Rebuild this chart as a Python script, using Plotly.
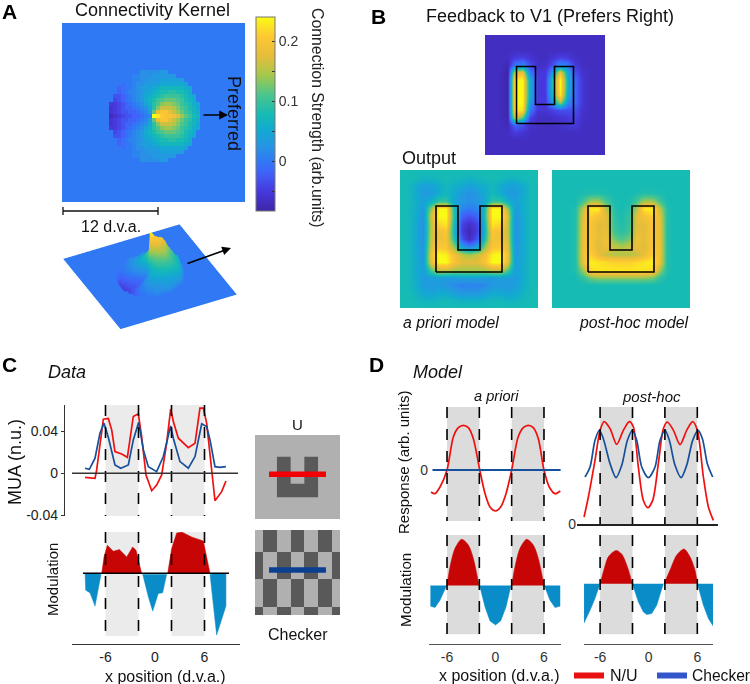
import numpy as np
import plotly.graph_objects as go

W, H = 750, 684
FONT = "Liberation Sans"

# ---------- data ----------
PARULA = [[0, "#3e26a8"], [.1, "#4638dc"], [.2, "#3f64fa"], [.257, "#3079f5"], [.33, "#2694e4"],
          [.42, "#12aad0"], [.5, "#16bbb4"], [.6, "#4cc58c"], [.7, "#a5c84c"], [.8, "#e6bd3a"],
          [.9, "#fec733"], [1, "#f9fb15"]]

# Kernel disc, hundredths of connection strength, centre row then rows outward (mirrored vertically)
KERNEL_ROWS = [
    [-7,-6,-5,-4,-3,-3,-2,-2,-1,0,1,24,23,21,20,20,19,17,14,12,10,8,7],
    [-6,-5,-4,-3,-3,-2,-2,-1,0,1,3,12,18,20,20,18,16,14,12,10,9,7,6],
    [-6,-5,-4,-3,-2,-2,-1,0,1,2,5,9,13,16,16,16,15,13,11,10,8,7,5],
    [-5,-5,-4,-3,-2,-1,0,1,2,4,6,9,11,13,14,14,13,12,10,9,8,6,5],
    [-4,-3,-2,-1,0,1,2,3,5,7,8,10,11,12,12,12,11,10,8,7,6],
    [-3,-3,-2,-1,0,1,2,3,5,6,7,8,9,10,10,10,10,9,8,6,5],
    [-2,-1,0,1,1,2,3,4,5,6,7,8,8,9,9,8,8,7,6],
    [-2,-1,0,0,1,2,3,4,4,5,6,7,7,7,7,7,7,6,5],
    [-1,0,0,1,2,2,3,3,4,4,5,5,5,5,5,5,4],
    [0,0,1,1,2,2,3,3,3,4,4,4,4,4,4],
    [1,1,2,2,2,3,3,3,3,3,3],
    [2,2,2,2,2,3,3],
]
CBAR_TICKS = [-.05, 0, .05, .1, .15, .2]
CBAR_LABELS = ["", "0", "", "0.1", "", "0.2"]

FEEDBACK = [
    [.5]*17, [.5]*17, [.5]*17,
    [.5,.5,.5,.5,1,1.2,.8,.5,.5,.8,1.2,1,.6,.5,.5,.5,.5],
    [.5,.5,.5,.2,2.5,3,1.5,.6,.6,1.6,3,2.5,1,.5,.5,.5,.5],
    [.5,.5,.4,0,8,8.5,2.5,1,1,3.5,8.5,4,1.5,.7,.5,.5,.5],
    [.5,.5,.4,0,9.8,10,4,1,1,5.5,10,4.5,2,.8,.5,.5,.5],
    [.5,.5,.4,0,10,10,4,1,1,5.5,10,4.5,2,.8,.5,.5,.5],
    [.5,.5,.4,0,10,10,4,1,1,5,9.7,4,2,.8,.5,.5,.5],
    [.5,.5,.4,0,10,10,3.5,1,1,3.5,7,3,2,.8,.5,.5,.5],
    [.5,.5,.4,0,9.8,9.5,2.5,.8,.8,1.2,1.5,1.5,1.5,.7,.5,.5,.5],
    [.5,.5,.4,.1,8,6,1.2,.5,.5,.6,.8,1,1.2,.6,.5,.5,.5],
    [.5,.5,.5,.3,2,1.5,.7,.5,.5,.5,.6,.8,1,.5,.5,.5,.5],
    [.5,.5,.5,.5,1,.8,.5,.5,.5,.5,.5,.5,.5,.5,.5,.5,.5],
    [.5]*17, [.5]*17, [.5]*17,
]
APRIORI_HALF = [
    [5,5,5,5,5,5,5,5,5,5],
    [5,5,4.9,4.7,4.7,4.9,5,4.9,4.8,4.6],
    [5,4.9,4.3,3.8,3.8,4.3,4.8,4.4,4.2,3.8],
    [5,4.9,4.2,3.6,3.6,4.3,4.8,4.2,3.6,3.2],
    [5,4.9,4.4,3.8,4.5,5.5,5.5,4,3.4,3.2],
    [5,4.9,4.4,3.6,6.8,10,10,5,2.9,2.6],
    [5,4.9,4.3,3.3,7.8,10,10,5.2,2,1.6],
    [5,4.9,4.2,3.2,7.5,9.3,9.6,4.8,1.3,.6],
    [5,4.9,4.2,3.2,7.5,8.5,8.8,4.6,1.1,.2],
    [5,4.9,4.2,3.2,7.7,8.4,8.6,5.2,1.7,.5],
    [5,4.9,4.2,3.4,8,9,8.8,6.8,4,3],
    [5,4.9,4.2,3.4,8.5,10,9.8,8.5,7.5,7],
    [5,4.9,4.3,3.6,8.2,10,10,8.7,8,8],
    [5,4.9,4.3,3.7,6,7.5,7.5,7,7,7],
    [5,4.9,4.3,3.6,3.7,3.8,3.6,3.7,3.8,3.9],
    [5,4.9,4.4,3.7,3.5,3.6,3.4,3,2.8,2.8],
    [5,5,4.6,4.1,3.9,4.2,4.2,3.8,3.5,3.5],
    [5,5,4.9,4.7,4.6,4.8,4.9,4.7,4.6,4.6],
    [5,5,5,5,5,5,5,5,5,5],
]
POSTHOC_HALF = [
    [5]*10, [5]*10, [5]*10,
    [5,5,5,5,5.1,5.2,5.2,5.1,5,5],
    [5,5,5,5,5.8,7,7,5.8,5.1,5],
    [5,5,5,5.2,7.5,9.8,9.8,7.2,5.3,5],
    [5,5,5,5.2,8,9.2,8.6,8,5.5,5.1],
    [5,5,5,5.2,8.2,8.8,8,8,5.6,5.2],
    [5,5,5,5.2,8.2,8.7,8,8.1,5.8,5.4],
    [5,5,5,5.2,8.3,8.8,8,8.4,6.5,6],
    [5,5,5,5.2,8.4,8.9,7.8,8.3,7.6,7.2],
    [5,5,5,5.2,8.4,9.2,8.2,7.5,7.2,7.2],
    [5,5,5,5.2,8.3,9.8,9.6,9.4,9.2,9.2],
    [5,5,5,5.2,7,9.4,9.6,9.6,9.6,9.6],
    [5,5,5,5,5.5,6.5,6.8,6.8,6.8,6.8],
    [5]*10, [5]*10, [5]*10, [5]*10,
]
U_X = [-6, 6, 6, 2, 2, -2, -2, -6, -6]
U_Y = [-6, -6, 6, 6, -2, -2, 6, 6, -6]

FIG_EDGES = [-6, -2, 2, 6]
X_TICKS = [-6, 0, 6]
X_TICK_LABELS = ["-6", "0", "6"]

C_RED_X = [-8.48,-7.27,-7.07,-6.67,-6.26,-5.66,-5.25,-4.85,-4.04,-3.35,-2.63,-2.02,-1.62,-1.09,-.40,.2,.81,1.41,1.9,2.22,2.83,4.04,4.85,5.45,5.86,6.26,6.75,7.27,8.08,8.6]
C_RED_Y = [-.0038,-.0048,.0032,.0285,.0513,.052,.0412,.0206,.0184,.0152,.0539,.0564,.0349,-.0016,-.0165,-.0111,-.0016,.0285,.0609,.0491,.0333,.0244,.0285,.0618,.0618,.0476,.0127,-.026,-.0174,-.0073]
C_BLUE_X = [-8.48,-7.96,-7.27,-6.67,-6.18,-5.66,-4.85,-4.16,-3.23,-2.63,-1.98,-1.41,-.81,.2,1.01,1.62,1.9,2.22,3.03,4.04,4.85,5.66,6.26,6.67,7.27,7.88,8.6]
C_BLUE_Y = [.0048,.0038,.0143,.038,.0476,.0342,.0079,.0048,.0079,.0317,.0485,.0222,.0063,.0016,.0159,.038,.045,.0333,.0111,.0048,.0159,.0469,.0444,.0317,.0063,.0057,.0063]

C_MOD_POS = [
    ([-6.46,-6.18,-5.78,-5.05,-4.32,-3.43,-2.71,-2.30,-1.62], [0,.49,.84,.66,.71,.49,.79,.69,0]),
    ([1.54,2.02,2.63,3.23,4.44,5.45,5.86,6.67], [0,.74,1.21,1.24,1.09,1.01,.97,0]),
]
C_MOD_NEG = [
    ([-8.48,-8.40,-7.88,-7.27,-6.54], [0,-.51,-.59,-.99,-.03]),
    ([-1.49,-.81,-.28,.40,.93,1.41], [-.03,-.71,-1.14,-.61,-.59,-.03]),
    ([6.67,7.47,8.6,8.6], [-.03,-1.86,-.99,0]),
]
D1_RED_X = [-7.98,-7.5,-6.87,-6,-5.22,-4.6,-3.98,-3.36,-2.74,-1.95,-1.29,-.68,0,.64,1.3,2,2.8,3.44,4.06,4.68,5.3,6,6.66,7.36,8.02]
D1_RED_Y = [-.66,-.71,-.51,0,.99,1.27,1.34,1.27,.94,0,-.71,-1.11,-1.23,-1.11,-.71,0,.99,1.27,1.34,1.27,.94,0,-.51,-.71,-.63]
D1_BLUE_X = [-7.8, 8.06]
D1_BLUE_Y = [0, 0]
D2_RED_X = [-7.98,-7.45,-6.63,-6.0,-5.51,-4.77,-3.95,-3.13,-2.39,-1.89,-1.28,-.66,-.12,.49,1.19,1.81,2.3,3.05,3.87,4.69,5.43,6.01,6.75,7.37,7.98]
D2_RED_Y = [.21,.81,1.91,2.81,3.07,2.86,2.39,2.81,3.07,2.91,1.71,.71,.49,.71,1.81,2.86,3.06,2.81,2.38,2.81,3.07,2.81,1.41,.51,.11]
D2_BLUE_X = [-7.86,-7.24,-6.63,-6.09,-5.6,-4.77,-4.03,-3.33,-2.63,-2.02,-1.48,-.86,-.04,.78,1.4,2.02,2.55,3.25,3.99,4.69,5.43,6.09,6.63,7.24,7.9]
D2_BLUE_Y = [1.41,1.71,2.51,2.81,2.56,1.81,1.39,1.76,2.51,2.81,2.51,1.71,1.39,1.71,2.51,2.81,2.51,1.76,1.39,1.76,2.51,2.81,2.56,1.81,1.41]
D1_MOD_POS = [
    ([-6,-5.63,-5.01,-4.19,-3.36,-2.74,-2.04], [0,.56,1.11,1.38,1.21,.81,0]),
    ([2,2.41,3.03,3.86,4.68,5.3,6], [0,.56,1.11,1.38,1.21,.81,0]),
]
D1_MOD_NEG = [
    ([-8.02,-8.02,-7.48,-6.87,-6.04], [0,-.62,-.66,-.44,0]),
    ([-1.96,-1.3,-.68,0,.64,1.3,1.92], [0,-.64,-1.06,-1.18,-1.06,-.64,0]),
    ([6.04,6.74,7.36,7.98,7.98], [0,-.44,-.66,-.62,0]),
]
D2_MOD_POS = [
    ([-6,-5.6,-4.98,-4.03,-3.33,-2.63,-2.02], [0,.36,.81,1.0,.89,.51,0]),
    ([1.89,2.63,3.46,4.36,5.1,5.72,6.01], [0,.41,.86,1.04,.81,.41,0]),
]
D2_MOD_NEG = [
    ([-7.98,-7.98,-7.24,-6.63,-6], [0,-1.17,-.79,-.44,0]),
    ([-2.02,-1.28,-.66,-.25,.37,.99,1.81], [0,-.54,-.84,-.92,-.89,-.64,0]),
    ([6.01,6.75,7.37,7.98,7.98], [0,-.64,-1.04,-1.27,0]),
]
CHECK_X = [-12.4, -10, -6, -2, 2, 6, 10, 12.4]
CHECK_Y = [12.4, 6, -2, -10, -12.4]
CHECK_Z = [[0,1,0,1,0,1,0],[1,0,1,0,1,0,1],[0,1,0,1,0,1,0],[1,0,1,0,1,0,1]]

RED, BLUE, DRED, CYAN = "#f01010", "#164f9a", "#c80505", "#0a8cc8"

# ---------- helpers ----------
fig = go.Figure()
counter = [1]
layout = {}
shapes = []
annots = []


def axes(x0, x1, ytop, ybot, xr, yr, xa=None, ya=None):
    counter[0] += 1
    n = counter[0]
    base = dict(visible=False, showgrid=False, zeroline=False, fixedrange=True)
    xd = dict(base, domain=[x0 / W, x1 / W], range=xr, anchor=f"y{n}")
    yd = dict(base, domain=[1 - ybot / H, 1 - ytop / H], range=yr, anchor=f"x{n}")
    if xa:
        xd.update(xa)
    if ya:
        yd.update(ya)
    layout[f"xaxis{n}"] = xd
    layout[f"yaxis{n}"] = yd
    return f"x{n}", f"y{n}"


def text(s, x, y, size=14, angle=0, color="#111", anchor="center", bold=False, italic=False):
    if bold:
        s = f"<b>{s}</b>"
    if italic:
        s = f"<i>{s}</i>"
    annots.append(dict(text=s, x=x / W, y=1 - y / H, xref="paper", yref="paper", showarrow=False,
                       xanchor=anchor, yanchor="middle", textangle=angle,
                       font=dict(size=size, color=color, family=FONT)))


def arrow(x0, y0, x1, y1):
    annots.append(dict(text="", x=x1 / W, y=1 - y1 / H, xref="paper", yref="paper", ax=x0 - x1, ay=y0 - y1,
                       axref="pixel", ayref="pixel", showarrow=True, arrowhead=2, arrowsize=1.1, arrowwidth=1.6,
                       arrowcolor="#000"))


def line_paper(x0, y0, x1, y1, color="#111", width=1.5):
    shapes.append(dict(type="line", xref="paper", yref="paper", x0=x0 / W, x1=x1 / W, y0=1 - y0 / H, y1=1 - y1 / H,
                       line=dict(color=color, width=width)))


def regions(xa, ya, fill, yspan=(0, 1)):
    yd = ya + " domain"
    for a, b in ((FIG_EDGES[0], FIG_EDGES[1]), (FIG_EDGES[2], FIG_EDGES[3])):
        shapes.append(dict(type="rect", xref=xa, yref=yd, x0=a, x1=b, y0=yspan[0], y1=yspan[1],
                           fillcolor=fill, line=dict(width=0), layer="below"))
    for e in FIG_EDGES:
        shapes.append(dict(type="line", xref=xa, yref=yd, x0=e, x1=e, y0=yspan[1], y1=yspan[0],
                           line=dict(color="#000", width=1.6, dash="11px,11px"), layer="above"))


def curve(xa, ya, xs, ys, color, width=1.7, smooth=True):
    fig.add_trace(go.Scatter(x=xs, y=ys, xaxis=xa, yaxis=ya, mode="lines", hoverinfo="skip", showlegend=False,
                             line=dict(color=color, width=width, shape="spline" if smooth else "linear",
                                       **({"smoothing": .8} if smooth else {}))))


def filled(xa, ya, polys, color, smooth=True):
    for xs, ys in polys:
        fig.add_trace(go.Scatter(x=xs, y=ys, xaxis=xa, yaxis=ya, mode="lines", fill="toself", fillcolor=color,
                                 hoverinfo="skip", showlegend=False,
                                 line=dict(color=color, width=0.5, shape="spline" if smooth else "linear",
                                           **({"smoothing": .8} if smooth else {}))))


def heat(xa, ya, rows, R, zmin=0, zmax=10):
    z = rows
    n = len(z)
    m = len(z[0])
    fig.add_trace(go.Heatmap(z=z, x0=-R, dx=2 * R / (m - 1), y0=R, dy=-2 * R / (n - 1), xaxis=xa, yaxis=ya,
                             zmin=zmin, zmax=zmax, colorscale=PARULA, showscale=False, zsmooth="best",
                             hoverinfo="skip"))


def outline(xa, ya):
    fig.add_trace(go.Scatter(x=U_X, y=U_Y, xaxis=xa, yaxis=ya, mode="lines", hoverinfo="skip", showlegend=False,
                             line=dict(color="#000", width=1.6)))


def mirror_lr(half):
    return [r + r[-2::-1] for r in half]


# ---------- panel A ----------
grid = np.zeros((47, 47))
for j, row in enumerate(KERNEL_ROWS):
    vals = np.array(row) / 100.0
    k0 = 23 - len(row) // 2
    grid[23 + j, k0:k0 + len(row)] = vals
    grid[23 - j, k0:k0 + len(row)] = vals
kx = (np.arange(47) - 23) * 0.5

xa, ya = axes(62, 245, 23, 202, [-11.65, 11.5], [-10.9, 11.75])
fig.add_trace(go.Heatmap(z=grid.tolist(), x=kx.tolist(), y=kx.tolist(), xaxis=xa, yaxis=ya, zmin=-.083, zmax=.24,
                         colorscale=PARULA, hoverinfo="skip", zsmooth=False,
                         colorbar=dict(x=256 / W, xanchor="left", xpad=0, y=1 - 211 / H, yanchor="bottom", ypad=0,
                                       len=194 / H, lenmode="fraction", thickness=19, thicknessmode="pixels",
                                       tickmode="array", tickvals=CBAR_TICKS, ticktext=CBAR_LABELS, ticks="inside",
                                       ticklen=3, tickcolor="#333", outlinecolor="#777", outlinewidth=1,
                                       tickfont=dict(size=14, color="#333", family=FONT))))
text("Connectivity Kernel", 152, 10, 18)
text("Connection Strength (arb.units)", 318, 118, 15.8, angle=90, color="#222")
text("Preferred", 234, 113, 18, angle=90)
arrow(202, 115, 228, 115)
line_paper(63, 211, 158, 211, width=1.3)
line_paper(63, 207, 63, 215, width=1.3)
line_paper(158, 207, 158, 215, width=1.3)
text("12 d.v.a.", 111, 226, 16)
text("A", 9, 11.5, 21, bold=True, color="#000")

fig.add_trace(go.Surface(z=grid.tolist(), x=kx.tolist(), y=kx.tolist(), scene="scene", colorscale=PARULA,
                         cmin=-.083, cmax=.24, showscale=False, hoverinfo="skip",
                         lighting=dict(ambient=1, diffuse=0, specular=0, fresnel=0, roughness=1)))
layout["scene"] = dict(
    domain=dict(x=[45 / W, 255 / W], y=[1 - 335.5 / H, 1 - 185.5 / H]),
    xaxis=dict(visible=False, range=[-11.5, 11.5]), yaxis=dict(visible=False, range=[-11.5, 11.5]),
    zaxis=dict(visible=False, range=[-.07, .24]),
    aspectmode="manual", aspectratio=dict(x=1.73, y=1.73, z=.96), bgcolor="rgba(0,0,0,0)",
    camera=dict(eye=dict(x=-.352 * 2, y=-.715 * 2, z=.604 * 2), up=dict(x=0, y=0, z=1),
                center=dict(x=0, y=0, z=0), projection=dict(type="orthographic")))
arrow(186, 264, 231, 248)

# ---------- panel B ----------
xa, ya = axes(485, 605, 35, 155, [-12.63, 12.63], [-12.63, 12.63])
heat(xa, ya, FEEDBACK, 12.63)
outline(xa, ya)
xa, ya = axes(400, 538, 170, 308, [-12.55, 12.55], [-12.55, 12.55])
heat(xa, ya, mirror_lr(APRIORI_HALF), 12.55)
outline(xa, ya)
xa, ya = axes(552, 690, 170, 308, [-12.55, 12.55], [-12.55, 12.55])
heat(xa, ya, mirror_lr(POSTHOC_HALF), 12.55)
outline(xa, ya)
text("B", 378, 16, 21, bold=True, color="#000")
text("Feedback to V1 (Prefers Right)", 550, 16, 18)
text("Output", 400, 158, 18, anchor="left")
text("a priori model", 401, 322, 15.8, anchor="left", italic=True)
text("post-hoc model", 633, 322, 15.8, italic=True)

# ---------- panel C ----------
cx = lambda px: (px - 155) / 8.25
AX_TXT = dict(size=14, color="#222", family=FONT)
xa, ya = axes(65, 238, 405, 516, [cx(65), cx(238)], [-.0405, .0648],
             ya=dict(visible=True, showline=True, linecolor="#333", linewidth=1.3, ticks="outside", ticklen=3,
                     tickcolor="#333", tickvals=[-.04, 0, .04], ticktext=["-0.04", "0", "0.04"], tickfont=AX_TXT))
regions(xa, ya, "#ebebeb")
shapes.append(dict(type="line", xref=xa, yref=ya, x0=cx(72), x1=cx(238), y0=0, y1=0,
                   line=dict(color="#333", width=1.5), layer="above"))
curve(xa, ya, C_RED_X, C_RED_Y, RED, smooth=False)
curve(xa, ya, C_BLUE_X, C_BLUE_Y, BLUE, smooth=False)

xa, ya = axes(72, 240, 532, 644, [cx(72), cx(240)], [-2.13, 1.24],
             xa=dict(visible=True, showline=True, linecolor="#333", linewidth=1.3, ticks="", tickvals=X_TICKS,
                     ticktext=X_TICK_LABELS, tickfont=AX_TXT))
regions(xa, ya, "#ebebeb", yspan=(.071, 1))
filled(xa, ya, C_MOD_POS, DRED, smooth=False)
filled(xa, ya, C_MOD_NEG, CYAN, smooth=False)
shapes.append(dict(type="line", xref=xa, yref=ya, x0=cx(83), x1=cx(229), y0=0, y1=0,
                   line=dict(color="#000", width=1.5), layer="above"))

text("C", 9, 364, 21, bold=True, color="#000")
text("Data", 67, 372, 18, italic=True)
text("MUA (n.u.)", 15, 462, 18, angle=-90)
text("Modulation", 52, 580, 15, angle=-90)
text("x position (d.v.a.)", 165, 676, 16)
text("U", 297, 424, 15)
text("Checker", 298, 634, 16)

# stimulus thumbnails
xa, ya = axes(255, 340, 435, 519, [-12.4, 12.4], [-12.4, 12.4])
shapes.append(dict(type="rect", xref=xa + " domain", yref=ya + " domain", x0=0, x1=1, y0=0, y1=1,
                   fillcolor="#b0b0b0", line=dict(width=0), layer="below"))
fig.add_trace(go.Scatter(x=U_X, y=U_Y, xaxis=xa, yaxis=ya, mode="lines", fill="toself", fillcolor="#595959",
                         line=dict(width=0), hoverinfo="skip", showlegend=False))
curve(xa, ya, [-8.3, 8.3], [.8, .8], "#f00000", width=5.5, smooth=False)

xa, ya = axes(255, 340, 530, 615, [-12.4, 12.4], [-12.4, 12.4])
fig.add_trace(go.Heatmap(z=CHECK_Z, x=CHECK_X, y=CHECK_Y, xaxis=xa, yaxis=ya, zmin=0, zmax=1, showscale=False,
                         colorscale=[[0, "#b0b0b0"], [1, "#595959"]], hoverinfo="skip", zsmooth=False))
curve(xa, ya, [-8.3, 8.3], [.7, .7], "#0b3f8f", width=5.5, smooth=False)

# ---------- panel D ----------
d1 = lambda px: (px - 495.5) / 8.08
d2 = lambda px: (px - 648.7) / 8.1
ZERO_TXT = dict(size=14, color="#333", family=FONT)

xa, ya = axes(429, 561, 407, 521, [d1(429), d1(561)], [-1.53, 1.89],
             ya=dict(visible=True, showline=False, ticks="", tickvals=[0], ticktext=["0"], tickfont=ZERO_TXT))
regions(xa, ya, "#dcdcdc")
curve(xa, ya, D1_RED_X, D1_RED_Y, RED)
curve(xa, ya, D1_BLUE_X, D1_BLUE_Y, BLUE, width=2)

xa, ya = axes(577, 718, 407, 524, [d2(577), d2(718)], [0, 3.51],
             xa=dict(visible=True, showline=True, linecolor="#222", linewidth=1.8, showticklabels=False, ticks=""),
             ya=dict(visible=True, showline=False, ticks="", tickvals=[0], ticktext=["0"], tickfont=ZERO_TXT))
regions(xa, ya, "#dcdcdc")
curve(xa, ya, D2_RED_X, D2_RED_Y, RED)
curve(xa, ya, D2_BLUE_X, D2_BLUE_Y, BLUE)

xa, ya = axes(429, 561, 535, 644, [d1(429), d1(561)], [-1.75, 1.51],
             xa=dict(visible=True, showline=True, linecolor="#555", linewidth=1.3, ticks="", tickvals=X_TICKS,
                     ticktext=X_TICK_LABELS, tickfont=ZERO_TXT))
regions(xa, ya, "#dcdcdc", yspan=(.089, 1))
filled(xa, ya, D1_MOD_POS, DRED)
filled(xa, ya, D1_MOD_NEG, CYAN, smooth=False)

xa, ya = axes(584, 713, 535, 644, [d2(584), d2(713)], [-1.80, 1.46],
             xa=dict(visible=True, showline=True, linecolor="#555", linewidth=1.3, ticks="", tickvals=X_TICKS,
                     ticktext=X_TICK_LABELS, tickfont=ZERO_TXT))
regions(xa, ya, "#dcdcdc", yspan=(.089, 1))
filled(xa, ya, D2_MOD_POS, DRED)
filled(xa, ya, D2_MOD_NEG, CYAN, smooth=False)

text("D", 376, 364, 21, bold=True, color="#000")
text("Model", 438, 372, 18, italic=True)
text("a priori", 497, 396, 14.6, italic=True)
text("post-hoc", 651, 396, 15, italic=True)
text("Response (arb. units)", 403, 463, 15, angle=-90)
text("Modulation", 405, 590, 15.2, angle=-90)
text("x position (d.v.a.)", 499, 675, 16)
line_paper(574, 675.5, 604, 675.5, color="#e81010", width=6)
text("N/U", 608, 675, 16, anchor="left")
line_paper(657, 675.5, 687, 675.5, color="#3355cc", width=6)
text("Checker", 690, 675, 15.6, anchor="left")

layout.update(width=W, height=H, margin=dict(l=0, r=0, t=0, b=0, pad=0, autoexpand=False), paper_bgcolor="#fff",
              plot_bgcolor="rgba(0,0,0,0)", showlegend=False, shapes=shapes, annotations=annots,
              font=dict(family=FONT))
fig.update_layout(layout)
fig.write_html("out.html", config=dict(displayModeBar=False, responsive=False),
               post_script="document.body.style.margin='0';")
